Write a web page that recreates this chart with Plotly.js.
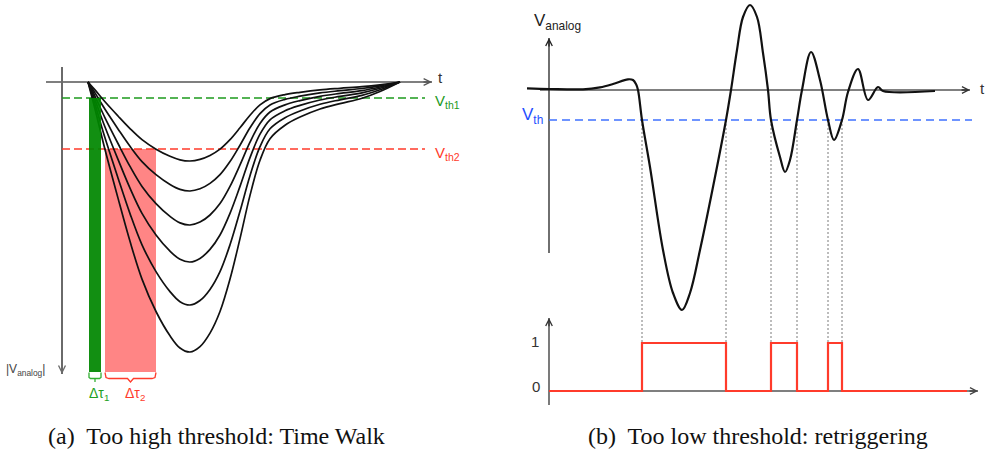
<!DOCTYPE html>
<html><head><meta charset="utf-8">
<script src="https://cdn.plot.ly/plotly-3.0.1.min.js"></script>
<style>html,body{margin:0;padding:0;background:#fff}#chart{width:990px;height:452px}</style>
</head><body><div id="chart"></div>
<script>
// ===== Panel (a): too high threshold -> time walk =====
// time axis (arbitrary units) and pulse amplitudes |V| (downwards positive)
const pulseT = [0, 0.7, 1.7, 3.0, 4.2, 5.4, 6.8, 8.2, 9.2, 10.2, 11.2, 12.2, 13.2, 14.2, 15.2, 16.2, 17.2, 18.2, 19.7, 21.2, 23.2, 25.2, 27.4, 29.2, 31.2];
const pulse1 = [0, 0.79, 1.98, 3.40, 4.66, 5.77, 6.72, 7.43, 7.78, 7.9, 7.74, 7.35, 6.72, 5.77, 4.58, 3.32, 2.29, 1.66, 1.26, 1.03, 0.79, 0.63, 0.47, 0.28, 0];
const pulse2 = [0, 1.09, 2.73, 4.69, 6.43, 7.96, 9.27, 10.25, 10.74, 10.9, 10.68, 10.14, 9.27, 7.96, 6.32, 4.58, 3.16, 2.29, 1.74, 1.42, 1.09, 0.87, 0.65, 0.38, 0];
const pulse3 = [0, 1.43, 3.58, 6.15, 8.44, 10.44, 12.16, 13.44, 14.09, 14.3, 14.01, 13.30, 12.16, 10.44, 8.29, 6.01, 4.15, 3.00, 2.29, 1.86, 1.43, 1.14, 0.86, 0.50, 0];
const pulse4 = [0, 1.8, 4.5, 7.74, 10.62, 13.14, 15.3, 16.92, 17.73, 18.0, 17.64, 16.74, 15.3, 13.14, 10.44, 7.56, 5.22, 3.78, 2.88, 2.34, 1.8, 1.44, 1.08, 0.63, 0];
const pulse5 = [0, 2.23, 5.58, 9.59, 13.16, 16.28, 18.96, 20.96, 21.97, 22.3, 21.85, 20.74, 18.96, 16.28, 12.93, 9.37, 6.47, 4.68, 3.57, 2.90, 2.23, 1.78, 1.34, 0.78, 0];
const pulse6 = [0, 2.7, 6.75, 11.61, 15.93, 19.71, 22.95, 25.38, 26.6, 27.0, 26.46, 25.11, 22.95, 19.71, 15.66, 11.34, 7.83, 5.67, 4.32, 3.51, 2.7, 2.16, 1.62, 0.95, 0];
const pulses = [pulse1, pulse2, pulse3, pulse4, pulse5, pulse6];
const vth1 = 1.6;             // low threshold (green)
const vth2 = 6.7;             // high threshold (red)
const tau1 = [0.1, 1.3];      // time-walk window, threshold 1
const tau2 = [1.7, 6.8];      // time-walk window, threshold 2
const thrLineT = [-2.6, 33.7];
const timeAxisT = [-4.2, 34.4];
const ampAxisT = -2.6;
const ampAxisV = [-1.5, 29.2];
const windowEnd = 29.0;

// ===== Panel (b): too low threshold -> retriggering =====
const analogT = [-2.2, 0.1, 3.4, 5.1, 6.4, 7.9, 8.4, 8.7, 8.9, 9.3, 10.1, 11.4, 12.4, 13.3, 14.1, 15.1, 16.4, 17.7, 18.2, 18.8, 19.4, 20.1, 20.8, 21.4, 21.9, 22.2, 23.1, 23.6, 24.1, 24.8, 25.3, 26.2, 27.1, 27.9, 28.5, 29.3, 29.9, 30.9, 31.9, 32.9, 33.4, 38.6];
const analogV = [0.17, 0.1, 0.07, 0.27, 0.6, 1.07, 1.0, 0.6, 0, -3.0, -7.7, -16.0, -20.3, -22.0, -20.3, -16.0, -9.7, -3.0, 0, 4.0, 7.3, 8.5, 7.3, 3.7, 0, -3.0, -6.7, -8.2, -7.0, -3.0, 0, 3.8, 1.0, -3.0, -5.0, -3.0, -0.2, 2.1, -1.0, 0.3, -0.1, -0.1];
const vth = -3.0;
const crossings = [9.3, 17.7, 22.2, 24.8, 27.9, 29.3];
const digitalLevels = [0, 1];
const digitalStartEnd = [0, 41.8];
const analogAxisT = [-0.9, 42.1];
const analogAxisV = [-16.3, 5.2];
const vthLineT = [0, 42.3];
const digitalAxisT = [0, 42.9];
const digitalAxisV = [-0.29, 1.52];
const dottedBottomV = -30.1;

// ---------------- traces ----------------
const traces = [];
const BLACK = '#111';
const GREEN = '#1c9a1c', RED = '#ff3b2b', BLUE = '#3f72ff';

// (a) red window
traces.push({x:[tau2[0], tau2[1], tau2[1], tau2[0], tau2[0]], y:[vth2, vth2, windowEnd, windowEnd, vth2],
  mode:'lines', fill:'toself', fillcolor:'#ff8585', line:{width:0, color:'#ff8585'}, xaxis:'x', yaxis:'y', hoverinfo:'skip'});
// (a) axes lines
traces.push({x:timeAxisT, y:[0,0], mode:'lines', line:{color:'#555', width:1.5}, xaxis:'x', yaxis:'y'});
traces.push({x:[ampAxisT, ampAxisT], y:ampAxisV, mode:'lines', line:{color:'#6a6a6a', width:2}, xaxis:'x', yaxis:'y'});
// (a) thresholds
traces.push({x:thrLineT, y:[vth1, vth1], mode:'lines', line:{color:GREEN, width:1.6, dash:'8px,4px'}, xaxis:'x', yaxis:'y'});
traces.push({x:thrLineT, y:[vth2, vth2], mode:'lines', line:{color:RED, width:1.6, dash:'8px,4px'}, xaxis:'x', yaxis:'y'});
// (a) pulses
pulses.forEach(p => traces.push({x:pulseT, y:p, mode:'lines', line:{color:BLACK, width:1.7, shape:'spline', smoothing:1}, xaxis:'x', yaxis:'y'}));
// (a) green window on top
traces.push({x:[tau1[0], tau1[1], tau1[1], tau1[0], tau1[0]], y:[vth1, vth1, windowEnd, windowEnd, vth1],
  mode:'lines', fill:'toself', fillcolor:'rgba(0,134,0,0.93)', line:{width:0, color:'#008600'}, xaxis:'x', yaxis:'y'});
// (a) brackets below windows
(function(){
  const y0 = windowEnd + 0.05, y1 = windowEnd + 0.55, y2 = windowEnd + 0.65, y3 = windowEnd + 1.0;
  const m1 = (tau1[0] + tau1[1]) / 2;
  traces.push({x:[tau1[0], tau1[0], tau1[0]+0.15, tau1[1]-0.15, tau1[1], tau1[1], null, m1, m1],
               y:[y0, y1, y2, y2, y1, y0, null, y2, y3], mode:'lines', line:{color:'#33b033', width:1.3}, xaxis:'x', yaxis:'y'});
  const m2 = (tau2[0] + tau2[1]) / 2;
  traces.push({x:[tau2[0], tau2[0]+0.1, tau2[0]+0.4, m2-0.3, m2, m2+0.3, tau2[1]-0.4, tau2[1]-0.1, tau2[1]],
               y:[y0, y1, y2, y2, y3, y2, y2, y1, y0], mode:'lines', line:{color:RED, width:1.3}, xaxis:'x', yaxis:'y'});
})();

// (b) dotted verticals
const dx = [], dy = [];
crossings.forEach(c => { dx.push(c, c, null); dy.push(vth, dottedBottomV, null); });
traces.push({x:dx, y:dy, mode:'lines', line:{color:'#7a7a7a', width:1, dash:'2px,2px'}, xaxis:'x2', yaxis:'y2'});
// (b) axes
traces.push({x:analogAxisT, y:[0,0], mode:'lines', line:{color:'#808080', width:2}, xaxis:'x2', yaxis:'y2'});
traces.push({x:[0,0], y:analogAxisV, mode:'lines', line:{color:'#222', width:1.3}, xaxis:'x2', yaxis:'y2'});
traces.push({x:digitalAxisT, y:[0,0], mode:'lines', line:{color:'#555', width:1.5}, xaxis:'x2', yaxis:'y3'});
traces.push({x:[0,0], y:digitalAxisV, mode:'lines', line:{color:'#333', width:1.3}, xaxis:'x2', yaxis:'y3'});
// (b) threshold
traces.push({x:vthLineT, y:[vth, vth], mode:'lines', line:{color:BLUE, width:1.7, dash:'8px,5px'}, xaxis:'x2', yaxis:'y2'});
// (b) analog signal
traces.push({x:analogT, y:analogV, mode:'lines', line:{color:BLACK, width:2.2, shape:'spline', smoothing:1}, xaxis:'x2', yaxis:'y2'});
// (b) digital output
const digX = [digitalStartEnd[0]].concat(crossings, [digitalStartEnd[1]]);
const digY = [digitalLevels[0]];
crossings.forEach((c, i) => digY.push(digitalLevels[(i + 1) % 2]));
digY.push(digitalLevels[0]);
traces.push({x:digX, y:digY, mode:'lines', line:{color:RED, width:2.2, shape:'hv'}, xaxis:'x2', yaxis:'y3'});

// ---------------- annotations ----------------
const SANS = 'Liberation Sans, Arial, sans-serif';
function arrowAnn(xr, yr, x, y, ax, ay, color, w, size) {
  return {xref:xr, yref:yr, axref:xr, ayref:yr, x:x, y:y, ax:ax, ay:ay, text:'', showarrow:true,
          arrowhead:5, arrowsize:size, arrowwidth:w, arrowcolor:color};
}
function label(xr, yr, x, y, text, size, color, xanchor) {
  return {xref:xr, yref:yr, x:x, y:y, text:text, showarrow:false, xanchor:xanchor || 'center', yanchor:'middle',
          font:{family:SANS, size:size, color:color}};
}
const annotations = [
  arrowAnn('x','y', timeAxisT[1], 0, timeAxisT[1]-1.0, 0, '#555', 1.5, 0.9),
  arrowAnn('x','y', ampAxisT, ampAxisV[1], ampAxisT, ampAxisV[1]-1.0, '#6a6a6a', 1.6, 0.85),
  arrowAnn('x2','y2', analogAxisT[1], 0, analogAxisT[1]-1.0, 0, '#333', 1.3, 1.0),
  arrowAnn('x2','y2', 0, analogAxisV[1], 0, analogAxisV[1]-1.0, '#222', 1.3, 1.0),
  arrowAnn('x2','y3', digitalAxisT[1], 0, digitalAxisT[1]-1.0, 0, '#444', 1.3, 1.0),
  arrowAnn('x2','y3', 0, digitalAxisV[1], 0, digitalAxisV[1]-0.2, '#333', 1.3, 1.0),
  label('x','y', 34.8, -0.5, 't', 15, '#333', 'left'),
  label('x','y', 34.5, 1.9, 'V<sub>th1</sub>', 15, GREEN, 'left'),
  label('x','y', 34.5, 7.1, 'V<sub>th2</sub>', 15, RED, 'left'),
  label('x','y', -4.1, 28.8, '|V<sub>analog</sub>|', 12, '#444', 'right'),
  label('x','y', 1.1, 31.2, 'Δτ<sub>1</sub>', 14, '#22a022'),
  label('x','y', 4.7, 31.2, 'Δτ<sub>2</sub>', 14, RED),
  label('x2','y2', -1.7, 6.8, 'V<sub>analog</sub>', 17, '#222', 'left'),
  label('x2','y2', -0.4, -2.6, 'V<sub>th</sub>', 17, '#1f4fff', 'right'),
  label('x2','y2', 42.9, 0.2, 't', 15, '#333', 'left'),
  label('x2','y3', -1.7, 1.95, 'V<sub>digital</sub>', 16, '#222', 'left'),
  label('x2','y3', -1.4, 1.04, '1', 15, '#333'),
  label('x2','y3', -1.3, 0.1, '0', 15, '#333'),
  {xref:'paper', yref:'paper', x:0.219, y:0.036, text:'(a)  Too high threshold: Time Walk', showarrow:false,
   xanchor:'center', yanchor:'middle', font:{family:'Liberation Serif, Times New Roman, serif', size:24, color:'#111'}},
  {xref:'paper', yref:'paper', x:0.766, y:0.036, text:'(b)  Too low threshold: retriggering', showarrow:false,
   xanchor:'center', yanchor:'middle', font:{family:'Liberation Serif, Times New Roman, serif', size:24, color:'#111'}}
];

const ax = {visible:false, fixedrange:true, zeroline:false, showgrid:false};
const layout = {
  width:990, height:452, margin:{l:0, r:0, t:0, b:0}, showlegend:false,
  paper_bgcolor:'#ffffff', plot_bgcolor:'rgba(0,0,0,0)',
  xaxis:Object.assign({domain:[0, 0.5], range:[-8.8, 40.7], anchor:'y'}, ax),
  yaxis:Object.assign({domain:[0, 1], range:[37.0, -8.2], anchor:'x'}, ax),
  xaxis2:Object.assign({domain:[0.5, 1], range:[-5.4, 44.1], anchor:'y2'}, ax),
  yaxis2:Object.assign({domain:[0, 1], range:[-36.2, 9.0], anchor:'x2'}, ax),
  yaxis3:Object.assign({domain:[0.070796, 0.336283], range:[-0.6042, 1.8958], anchor:'x2'}, ax),
  annotations:annotations
};
Plotly.newPlot('chart', traces, layout, {staticPlot:true, displayModeBar:false});
</script>
</body></html>
